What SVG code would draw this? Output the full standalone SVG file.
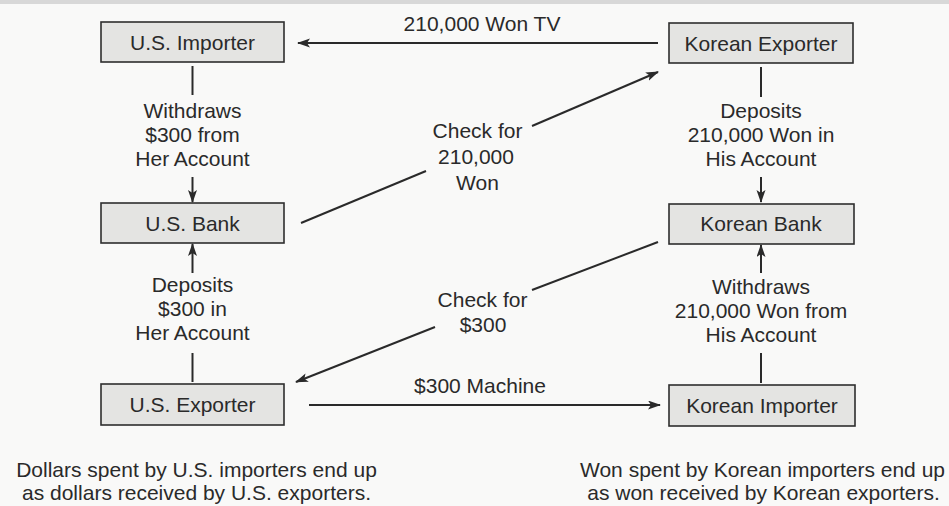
<svg xmlns="http://www.w3.org/2000/svg" width="949" height="506" viewBox="0 0 949 506">
<defs>
<marker id="ah" markerUnits="userSpaceOnUse" markerWidth="14" markerHeight="10" refX="12" refY="4.5" orient="auto">
<path d="M0,0 L13,4.5 L0,9 L3,4.5 z" fill="#2a2a2a"/>
</marker>
</defs>
<style>
.bg{fill:#f9f9f8}
.box{fill:#e4e4e2;stroke:#2e2e2e;stroke-width:1.6}
.t{font-family:"Liberation Sans",Arial,sans-serif;font-size:21px;fill:#2a2a2a;text-anchor:middle}
.ln{stroke:#2a2a2a;stroke-width:2;fill:none}
.ar{stroke:#2a2a2a;stroke-width:2;fill:none;marker-end:url(#ah)}
</style>
<rect class="bg" x="0" y="0" width="949" height="506"/>
<rect x="0" y="0" width="949" height="4" fill="#d8d8d8"/>

<g id="us-importer"><rect class="box" x="101" y="22" width="183" height="40"/><text class="t" x="192.5" y="50">U.S. Importer</text></g>
<g id="korean-exporter"><rect class="box" x="669" y="23" width="184" height="40"/><text class="t" x="761" y="51">Korean Exporter</text></g>
<g id="us-bank"><rect class="box" x="101" y="203" width="183" height="40"/><text class="t" x="192.5" y="231">U.S. Bank</text></g>
<g id="korean-bank"><rect class="box" x="669" y="204" width="185" height="40"/><text class="t" x="761" y="231">Korean Bank</text></g>
<g id="us-exporter"><rect class="box" x="101" y="384" width="183" height="41"/><text class="t" x="192.5" y="412">U.S. Exporter</text></g>
<g id="korean-importer"><rect class="box" x="669" y="385" width="186" height="41"/><text class="t" x="762" y="413">Korean Importer</text></g>

<g id="connectors">
<line class="ar" x1="658" y1="43" x2="298" y2="43"/>
<line class="ar" x1="309" y1="405" x2="660" y2="405"/>
<line class="ln" x1="192.5" y1="66" x2="192.5" y2="95"/>
<line class="ar" x1="192.5" y1="177" x2="192.5" y2="202"/>
<line class="ar" x1="192.5" y1="273" x2="192.5" y2="244"/>
<line class="ln" x1="192.5" y1="353" x2="192.5" y2="382"/>
<line class="ln" x1="761" y1="67" x2="761" y2="97"/>
<line class="ar" x1="761" y1="177" x2="761" y2="202"/>
<line class="ar" x1="761" y1="273" x2="761" y2="245"/>
<line class="ln" x1="761" y1="353" x2="761" y2="383"/>
<line class="ln" x1="301" y1="223" x2="426" y2="171"/>
<line class="ar" x1="532" y1="126" x2="658" y2="72"/>
<line class="ln" x1="658" y1="242" x2="532" y2="290"/>
<line class="ar" x1="435" y1="327" x2="296" y2="382"/>
</g>

<g id="labels">
<text class="t" x="482" y="31">210,000 Won TV</text>
<text class="t" x="480" y="393">$300 Machine</text>
<text class="t" x="192.5" y="118">Withdraws</text>
<text class="t" x="192.5" y="142">$300 from</text>
<text class="t" x="192.5" y="166">Her  Account</text>
<text class="t" x="192.5" y="292">Deposits</text>
<text class="t" x="192.5" y="316">$300 in</text>
<text class="t" x="192.5" y="340">Her  Account</text>
<text class="t" x="761" y="118">Deposits</text>
<text class="t" x="761" y="142">210,000 Won in</text>
<text class="t" x="761" y="166">His  Account</text>
<text class="t" x="761" y="294">Withdraws</text>
<text class="t" x="761" y="318">210,000 Won from</text>
<text class="t" x="761" y="342">His  Account</text>
<text class="t" x="477.5" y="138">Check for</text>
<text class="t" x="476" y="164">210,000</text>
<text class="t" x="477.5" y="190">Won</text>
<text class="t" x="482.5" y="307">Check for</text>
<text class="t" x="483" y="332">$300</text>
<text class="t" x="196.5" y="477">Dollars spent by U.S. importers end up</text>
<text class="t" x="196.5" y="500">as dollars received by U.S. exporters.</text>
<text class="t" x="762.5" y="477">Won spent by Korean importers end up</text>
<text class="t" x="763.5" y="500">as won received by Korean exporters.</text>
</g>
</svg>
